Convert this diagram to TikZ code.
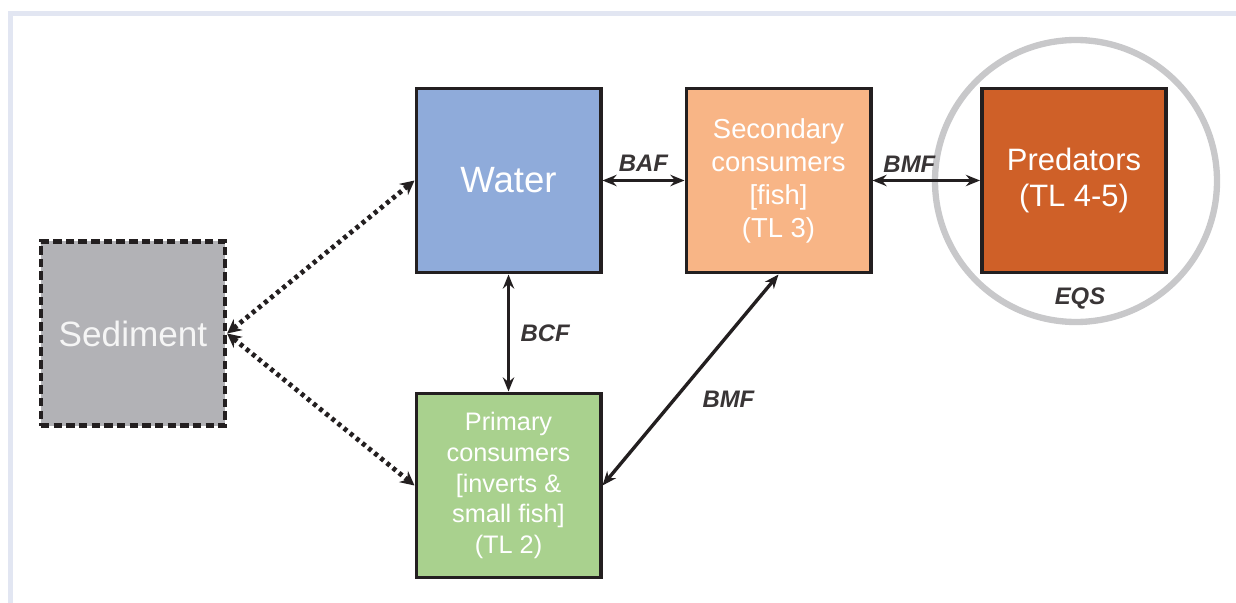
\documentclass[tikz,border=0pt]{standalone}
\usepackage{fontspec}
\setmainfont{Liberation Sans}
\usetikzlibrary{arrows.meta}

\definecolor{waterblue}{RGB}{143,171,218}
\definecolor{fishorange}{RGB}{248,181,134}
\definecolor{predorange}{RGB}{207,96,40}
\definecolor{sedgray}{RGB}{178,178,182}
\definecolor{invgreen}{RGB}{169,209,142}
\definecolor{framegray}{RGB}{226,230,242}
\definecolor{ringgray}{RGB}{200,200,202}
\definecolor{boxline}{RGB}{35,31,32}

\begin{document}
\begin{tikzpicture}
        [x=0.025cm, y=-0.025cm,
        box/.style={rectangle, draw=boxline, line width=2.8pt, minimum size=4.6cm,
            text=white, align=center, font=\fontsize{19.5}{23.5}\selectfont},
        sedbox/.style={box, dashed, dash pattern=on 6pt off 3pt, line width=3pt},
        link/.style={line width=2.4pt, boxline, {Stealth[length=10pt,width=8pt]}-{Stealth[length=10pt,width=8pt]}},
        dotlink/.style={line width=3.4pt, boxline, dash pattern=on 2.8pt off 2.8pt,
            {Stealth[length=10pt,width=10pt]}-{Stealth[length=10pt,width=10pt]}},
        lbl/.style={font=\fontsize{17}{20}\selectfont\bfseries\itshape, text=boxline!90}]

        \useasboundingbox (0,0) rectangle (1236,603);

        % frame at top and left
        \draw[framegray, line width=3.6pt] (10.5,603) -- (10.5,13.5) -- (1236,13.5);

        % ring round the predators
        \draw[ringgray, line width=4.5pt] (1076,181) circle (141);

        \node[box, fill=waterblue, font=\fontsize{26}{30}\selectfont] (water) at (508.5,180.5) {Water};
        \node[box, fill=fishorange] (second) at (778.5,180.5) {Secondary\\consumers\\{[fish]}\\(TL 3)};
        \node[box, fill=predorange, font=\fontsize{22}{26}\selectfont] (pred) at (1074,180.5) {Predators\\(TL 4-5)};
        \node[sedbox, fill=sedgray, text=white!92!gray, font=\fontsize{25}{28}\selectfont] (sed) at (133,333.5) {Sediment};
        \node[box, fill=invgreen, font=\fontsize{18}{22}\selectfont] (prim) at (508.5,485.5) {Primary\\consumers\\{[inverts \&}\\small fish]\\(TL 2)};

        \draw[link] (water) -- (second) node[midway, above=2pt, lbl] {BAF};
        \draw[link] (second) -- (pred) node[midway, above=1pt, xshift=-12pt, lbl] {BMF};
        \draw[link] (water) -- (prim) node[midway, right=4pt, lbl] {BCF};
        \draw[link] (prim.east) -- (second.south) node[midway, below right=3pt, xshift=1pt, lbl] {BMF};

        \draw[dotlink] (sed.east) -- (water.west);
        \draw[dotlink] (sed.east) -- (prim.west);

        \node[lbl] (eqs) at (1080,298) {EQS};
    \end{tikzpicture}
\end{document}
